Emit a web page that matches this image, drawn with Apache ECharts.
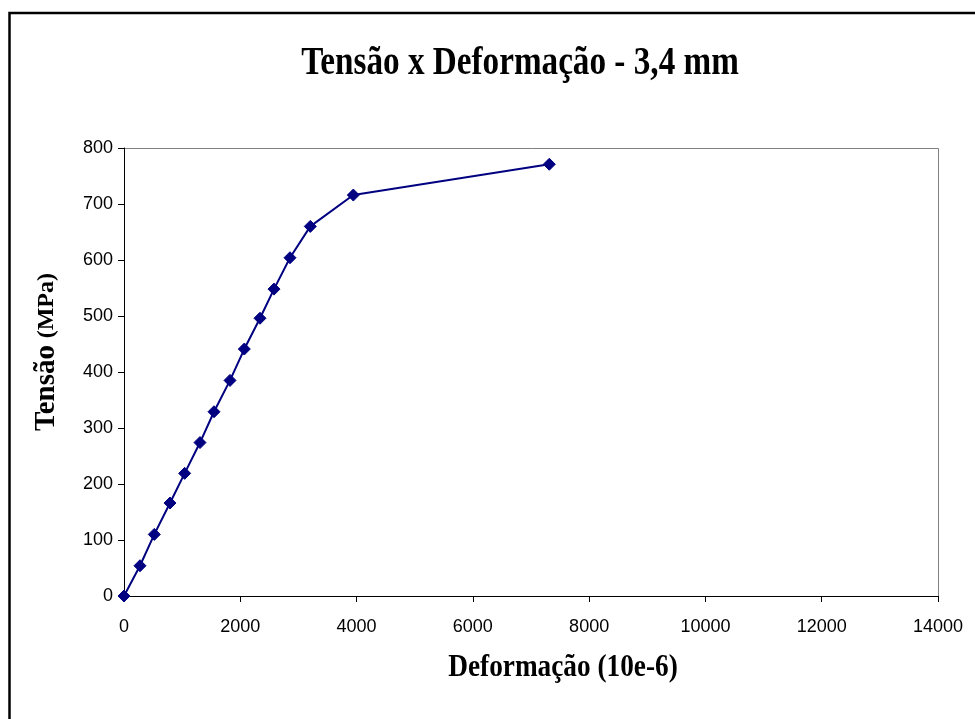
<!DOCTYPE html>
<html>
<head>
<meta charset="utf-8">
<script src="https://cdn.jsdelivr.net/npm/echarts@6/dist/echarts.min.js"></script>
<style>
  html, body { margin: 0; padding: 0; background: #fff; }
  #chart { width: 975px; height: 719px; }
</style>
</head>
<body>
<div id="chart"></div>
<script>
// Deformação (10e-6) and Tensão (MPa) readings for the 3,4 mm specimen
const deformacao = [0, 275, 521, 791, 1043, 1307, 1548, 1823, 2069, 2339, 2580, 2855, 3204, 3944, 7315];
const tensao = [0, 54, 110, 166, 219, 274, 329, 385, 441, 496, 548, 604, 660, 716, 771];

const xTicks = { min: 0, max: 14000, interval: 2000 };
const yTicks = { min: 0, max: 800, interval: 100 };

const titleText = 'Tensão x Deformação - 3,4 mm';
const xName = 'Deformação (10e-6)';
const yNameMain = 'Tensão';
const yNameUnit = '(MPa)';

const serif = 'Liberation Serif, Times New Roman, serif';
const sans = 'Liberation Sans, Arial, sans-serif';

const chart = echarts.init(document.getElementById('chart'), null, { renderer: 'canvas' });

const points = deformacao.map((d, i) => [d, tensao[i]]);

chart.setOption({
  animation: false,
  backgroundColor: '#ffffff',
  graphic: [
    // outer chart frame
    {
      type: 'rect',
      shape: { x: 9.5, y: 13, width: 990, height: 740 },
      style: { fill: 'none', stroke: '#000', lineWidth: 2.5 },
      silent: true
    },
    // grey plot-area edges (top and right)
    {
      type: 'polyline',
      shape: { points: [[124, 148.5], [938.5, 148.5], [938.5, 596]] },
      style: { fill: 'none', stroke: '#808080', lineWidth: 1 },
      silent: true
    },
    // chart title, narrow bold serif
    {
      type: 'text',
      x: 520,
      y: 64,
      scaleX: 0.83,
      style: {
        text: titleText,
        font: 'bold 40px ' + serif,
        fill: '#000',
        align: 'center',
        verticalAlign: 'middle'
      },
      silent: true
    },
    // x axis title
    {
      type: 'text',
      x: 563,
      y: 668,
      scaleX: 0.88,
      style: {
        text: xName,
        font: 'bold 31px ' + serif,
        fill: '#000',
        align: 'center',
        verticalAlign: 'middle'
      },
      silent: true
    },
    // y axis title, rotated
    {
      type: 'text',
      x: 47,
      y: 352,
      rotation: Math.PI / 2,
      style: {
        text: '{a|' + yNameMain + '}  {b|' + yNameUnit + '}',
        fill: '#000',
        align: 'center',
        verticalAlign: 'middle',
        rich: {
          a: { font: 'bold 29px ' + serif, fill: '#000' },
          b: { font: 'bold 24px ' + serif, fill: '#000' }
        }
      },
      silent: true
    }
  ],
  grid: {
    left: 124,
    top: 148,
    right: 37,
    bottom: 123,
    containLabel: false
  },
  xAxis: {
    type: 'value',
    min: xTicks.min,
    max: xTicks.max,
    interval: xTicks.interval,
    axisLine: { show: true, onZero: false, lineStyle: { color: '#000', width: 1 } },
    axisTick: { show: true, inside: false, length: 6, lineStyle: { color: '#000' } },
    axisLabel: {
      margin: 22,
      fontFamily: sans,
      fontSize: 18,
      color: '#000',
      formatter: (v) => String(v)
    },
    splitLine: { show: false }
  },
  yAxis: {
    type: 'value',
    min: yTicks.min,
    max: yTicks.max,
    interval: yTicks.interval,
    axisLine: { show: true, onZero: false, lineStyle: { color: '#000', width: 1 } },
    axisTick: { show: true, inside: false, length: 6, lineStyle: { color: '#000' } },
    axisLabel: {
      margin: 11,
      fontFamily: sans,
      fontSize: 18,
      color: '#000',
      formatter: (v) => String(v)
    },
    splitLine: { show: false }
  },
  series: [
    {
      type: 'line',
      data: points,
      symbol: 'diamond',
      symbolSize: 12,
      lineStyle: { color: '#000080', width: 2 },
      itemStyle: { color: '#000080', borderColor: '#000080' },
      clip: false
    }
  ]
});
</script>
</body>
</html>
